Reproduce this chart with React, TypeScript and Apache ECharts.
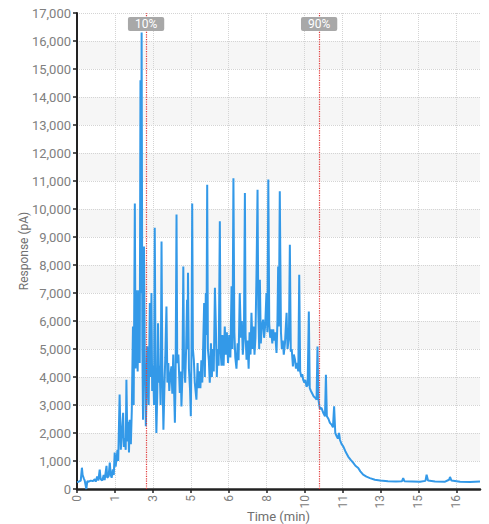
import React, { useEffect, useRef } from "react";
import * as echarts from "echarts";

// x-axis tick positions (minutes) and the labels shown at them
const xTickValues = [0, 1.62, 3.24, 4.86, 6.48, 8.1, 9.72, 11.34, 12.96, 14.58, 16.2];
const xTickLabels = ["0", "1", "3", "5", "6", "8", "10", "11", "13", "15", "16"];
const xMax = 17.21;
const yMax = 17000;
const yStep = 1000;

// percentile markers
const markerTimes = [2.95, 10.34];
const markerLabels = ["10%", "90%"];

// trace segments [time (min), response (pA)]
const baselineStart: [number, number][] = [
  [0.0, 250], [0.07, 260], [0.16, 300], [0.21, 760], [0.24, 500], [0.29, 380], [0.33, 300],
  [0.37, 120], [0.4, 0], [0.44, 280], [0.5, 260], [0.59, 300], [0.67, 280], [0.76, 350],
  [0.8, 260], [0.86, 450], [0.91, 300], [0.97, 690], [1.01, 350], [1.08, 300], [1.14, 500],
  [1.18, 320], [1.26, 830], [1.29, 400], [1.35, 450], [1.4, 940], [1.44, 500], [1.48, 400],
];

const riseSegment: [number, number][] = [
  [1.53, 700], [1.57, 500], [1.61, 1300], [1.65, 800], [1.73, 1400], [1.76, 1000], [1.82, 3370],
  [1.87, 1400], [1.91, 1900], [1.97, 2720], [2.0, 1500], [2.04, 1820], [2.08, 1400], [2.11, 3900],
  [2.15, 1700], [2.19, 2400], [2.22, 1300], [2.25, 2470], [2.3, 1600], [2.34, 2800], [2.39, 5800],
  [2.42, 3000], [2.47, 10200], [2.5, 4300], [2.53, 6000], [2.56, 7100], [2.59, 4200], [2.62, 5800],
  [2.65, 7100], [2.68, 4500], [2.71, 14600], [2.73, 7000], [2.76, 16300], [2.79, 5100], [2.82, 2470],
  [2.86, 8660], [2.89, 5100], [2.94, 2240], [2.97, 3500],
];

const earlyPeaks: [number, number][] = [
  [3.0, 5100], [3.03, 4000], [3.06, 3000], [3.11, 6640], [3.14, 4000], [3.18, 7000], [3.21, 3500],
  [3.25, 4400], [3.29, 3000], [3.32, 9330], [3.36, 3500], [3.39, 2000], [3.43, 3500], [3.46, 5920],
  [3.5, 3800], [3.53, 4400], [3.57, 3000], [3.61, 8840], [3.64, 4600], [3.69, 2120], [3.73, 3500],
  [3.77, 4700], [3.82, 6520], [3.86, 3800], [3.9, 4500], [3.94, 3500], [3.98, 4000], [4.03, 4380],
  [4.07, 3400], [4.11, 4800], [4.18, 2370], [4.21, 4000], [4.25, 9800], [4.28, 4500], [4.33, 4800],
  [4.39, 3430], [4.43, 4200], [4.46, 2950], [4.5, 4000], [4.54, 7950], [4.57, 4600], [4.62, 3800],
  [4.66, 5000], [4.7, 6760], [4.72, 5000], [4.74, 7720], [4.78, 4300], [4.83, 3500], [4.86, 2600],
  [4.89, 5000], [4.92, 10200], [4.95, 5000], [4.99, 4600], [5.03, 3800], [5.1, 3190], [5.15, 4500],
  [5.18, 3600], [5.22, 4200], [5.27, 3600], [5.31, 4600], [5.35, 3800], [5.39, 5200], [5.43, 6640],
  [5.46, 4000], [5.5, 7000], [5.53, 5500], [5.56, 10870], [5.59, 5000], [5.63, 4600], [5.67, 3800],
  [5.72, 5200], [5.76, 4000], [5.8, 5000], [5.84, 4200], [5.89, 7190], [5.93, 5800], [5.97, 4000],
];

const midPeaks: [number, number][] = [
  [6.01, 5000], [6.05, 4400], [6.1, 9560], [6.13, 5000], [6.17, 4400], [6.21, 5500], [6.26, 4400],
  [6.31, 5800], [6.36, 4800], [6.4, 5600], [6.45, 4500], [6.5, 5500], [6.55, 4700], [6.6, 7240],
  [6.64, 5000], [6.68, 11100], [6.72, 5600], [6.76, 4700], [6.81, 4300], [6.86, 5200], [6.9, 4600],
  [6.95, 7000], [7.0, 5400], [7.04, 6000], [7.08, 4800], [7.13, 5500], [7.17, 10570], [7.2, 5500],
  [7.24, 4620], [7.28, 5300], [7.33, 4300], [7.37, 5600], [7.41, 4800], [7.45, 6290], [7.5, 5000],
  [7.54, 5800], [7.58, 4800], [7.62, 5400], [7.67, 7950], [7.71, 10690], [7.74, 6500], [7.78, 5000],
  [7.81, 7470], [7.85, 5200], [7.89, 5800], [7.95, 6050], [7.99, 5400], [8.04, 5900], [8.09, 7000],
  [8.13, 5600], [8.17, 11050], [8.21, 5900], [8.25, 5400], [8.29, 5700], [8.34, 5200], [8.38, 5700],
  [8.42, 5300], [8.46, 5600], [8.52, 4860], [8.56, 6000], [8.59, 7950], [8.62, 5800], [8.66, 10630],
  [8.71, 5600], [8.75, 5000], [8.79, 5300], [8.83, 4800], [8.88, 5200], [8.95, 6290], [8.99, 5000],
];

const latePeaks: [number, number][] = [
  [9.05, 5400], [9.09, 8720], [9.13, 4900], [9.17, 5000], [9.22, 4380], [9.26, 4800], [9.31, 4620],
  [9.35, 4300], [9.39, 4500], [9.45, 4200], [9.49, 7650], [9.53, 4200], [9.58, 4000], [9.62, 4100],
  [9.66, 3900], [9.71, 3800], [9.75, 3900], [9.8, 3660], [9.85, 3700], [9.9, 6340], [9.94, 3600],
  [9.99, 3500], [10.05, 3400], [10.11, 3300], [10.18, 3250], [10.23, 3190], [10.27, 5090],
  [10.31, 3190], [10.37, 2860], [10.44, 2900], [10.52, 2710], [10.59, 2600], [10.63, 4080],
  [10.67, 2600], [10.74, 2500], [10.8, 2360], [10.87, 2300], [10.93, 2200], [10.98, 2950],
  [11.03, 2000], [11.09, 1880], [11.14, 1800], [11.19, 2000], [11.23, 1750], [11.3, 1600],
];

const tailSegment: [number, number][] = [
  [11.37, 1520], [11.46, 1350], [11.58, 1160], [11.68, 1050], [11.8, 930], [11.89, 830],
  [12.01, 750], [12.1, 630], [12.22, 510], [12.36, 440], [12.51, 390], [12.72, 330], [12.94, 300],
  [13.28, 280], [13.62, 270], [13.88, 280], [13.93, 390], [13.98, 280], [14.31, 270], [14.65, 260],
  [14.88, 290], [14.93, 510], [14.99, 300], [15.29, 270], [15.72, 260], [15.89, 330], [15.93, 430],
  [15.99, 300], [16.36, 260], [16.78, 250], [17.21, 270],
];

const trace = [
  ...baselineStart,
  ...riseSegment,
  ...earlyPeaks,
  ...midPeaks,
  ...latePeaks,
  ...tailSegment,
];

const labelColor = "#808080";
const axisColor = "#222";
const font = "Roboto, 'Noto Sans', sans-serif";

export default function App() {
  const ref = useRef<HTMLDivElement>(null);

  useEffect(() => {
    document.body.style.margin = "0";
    if (!ref.current) return;
    const chart = echarts.init(ref.current, undefined, { renderer: "svg" });
    chart.setOption({
      animation: false,
      backgroundColor: "#ffffff",
      grid: {
        left: 77,
        right: 9,
        top: 13,
        bottom: 35,
        containLabel: false,
        outerBoundsMode: "none",
      },
      xAxis: {
        type: "value",
        min: 0,
        max: xMax,
        interval: xTickValues[1],
        name: "Time (min)",
        nameLocation: "middle",
        nameGap: 21,
        nameMoveOverlap: false,
        nameTextStyle: { color: "#707070", fontSize: 13, fontFamily: font },
        axisLine: { show: true, onZero: false, lineStyle: { color: axisColor, width: 2.5 } },
        axisTick: {
          show: true,
          length: 4,
          customValues: xTickValues,
          lineStyle: { color: axisColor, width: 1.5 },
        },
        axisLabel: {
          customValues: xTickValues,
          rotate: 90,
          margin: 6,
          color: labelColor,
          fontSize: 12,
          fontFamily: font,
          formatter: (v: number) => {
            const i = xTickValues.findIndex((t) => Math.abs(t - v) < 0.01);
            return i >= 0 ? xTickLabels[i] : "";
          },
        },
        splitLine: { show: true, lineStyle: { color: "#d4d4d4", type: "dotted", width: 1 } },
      },
      yAxis: {
        type: "value",
        min: 0,
        max: yMax,
        interval: yStep,
        name: "Response (pA)",
        nameLocation: "middle",
        nameGap: 47,
        nameMoveOverlap: false,
        nameTextStyle: { color: "#707070", fontSize: 12, fontFamily: font },
        axisLine: { show: true, lineStyle: { color: axisColor, width: 2 } },
        axisTick: { show: true, length: 4, lineStyle: { color: axisColor, width: 1.5 } },
        axisLabel: {
          margin: 6,
          color: labelColor,
          fontSize: 13,
          fontFamily: font,
          formatter: (v: number) => v.toLocaleString("en-US"),
        },
        splitLine: { show: true, lineStyle: { color: "#d4d4d4", type: "dotted", width: 1 } },
        splitArea: { show: true, areaStyle: { color: ["#ffffff", "#f6f6f6"] } },
      },
      series: [
        {
          type: "line",
          data: trace,
          showSymbol: false,
          symbol: "none",
          lineStyle: { color: "#3399e8", width: 2 },
          markLine: {
            silent: true,
            symbol: ["none", "none"],
            lineStyle: { color: "#e23b3b", type: "dotted", width: 1.2 },
            label: {
              show: true,
              position: "end",
              distance: -18,
              color: "#ffffff",
              backgroundColor: "#a8a8a8",
              borderRadius: 2,
              padding: [1, 7],
              fontSize: 12,
              fontFamily: font,
              formatter: (p: any) => p.name,
            },
            data: markerTimes.map((t, i) => ({ xAxis: t, name: markerLabels[i] })),
          },
        },
      ],
    });
    return () => chart.dispose();
  }, []);

  return (
    <div
      ref={ref}
      style={{ position: "absolute", left: 0, top: 0, width: 489, height: 524 }}
    />
  );
}
